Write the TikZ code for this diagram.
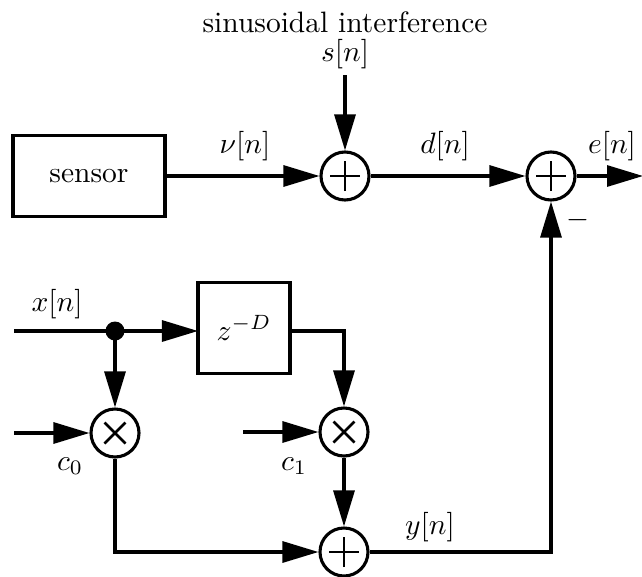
\documentclass[tikz,border=0pt]{standalone}
\usetikzlibrary{arrows.meta,calc}
\begin{document}
\begin{tikzpicture}[x=1pt,y=-1pt,line width=3.1pt,
  every node/.style={font=\fontsize{10}{12}\selectfont},
  arr/.style={-{Triangle[length=36pt,width=21pt]}},
  sumn/.style={circle,draw,minimum size=48pt,inner sep=0pt,
    path picture={\draw[line width=2.8pt] ([xshift=-15pt]path picture bounding box.center) -- ([xshift=15pt]path picture bounding box.center)
      ([yshift=-15pt]path picture bounding box.center) -- ([yshift=15pt]path picture bounding box.center);}},
  muln/.style={circle,draw,minimum size=48pt,inner sep=0pt,
    path picture={\draw[line width=2.6pt] ([shift={(-10.5pt,-10.5pt)}]path picture bounding box.center) -- ([shift={(10.5pt,10.5pt)}]path picture bounding box.center)
      ([shift={(-10.5pt,10.5pt)}]path picture bounding box.center) -- ([shift={(10.5pt,-10.5pt)}]path picture bounding box.center);}},
  blk/.style={draw,inner sep=0pt,outer sep=0pt,scale=2.95},
  lbl/.style={inner sep=0pt,scale=2.95}]
\useasboundingbox (0,0) rectangle (642,576);
% nodes
\node[sumn] (s1) at (345,176) {};
\node[sumn] (s2) at (551,176) {};
\node[sumn] (s3) at (344,552) {};
\node[muln] (m1) at (115,433) {};
\node[muln] (m2) at (344,432) {};
\node[blk,minimum width=51.5pt,minimum height=27.5pt] (sensor) at (89,176) {sensor};
\node[blk,minimum width=31.2pt,minimum height=30.8pt] (delay) at (244,328) {$z^{-D}$};
\node[lbl] (sint) at (345,22) {sinusoidal interference};
\node[lbl] (sn) at (345,54) {$s[n]$};
\node[lbl] (nu) at (245,146) {$\nu[n]$};
\node[lbl] (dn) at (445,146) {$d[n]$};
\node[lbl] (en) at (612,146) {$e[n]$};
\node[lbl] (minus) at (578,220) {$-$};
\node[lbl] (xn) at (57,304) {$x[n]$};
\node[lbl] (c0) at (70,466) {$c_0$};
\node[lbl] (c1) at (294,466) {$c_1$};
\node[lbl] (yn) at (430,527) {$y[n]$};
\coordinate (stop) at (345,75);
\coordinate (eout) at (643,176);
\coordinate (xin) at (14,331);
\coordinate (dot) at (115,331);
\coordinate (c0in) at (14,433);
\coordinate (c1in) at (243,432);
% connectors
\draw[arr] (stop) -- (s1);
\draw[arr] (sensor) -- (s1);
\draw[arr] (s1) -- (s2);
\draw[arr] (s2) -- (eout);
\draw (xin) -- (dot);
\draw[arr] (dot) -- (dot -| delay.west);
\draw[arr] (dot) -- (m1);
\fill (dot) circle (9.5pt);
\draw[arr] (dot -| delay.east) -| (m2.north);
\draw[arr] (c0in) -- (m1);
\draw[arr] (c1in) -- (m2);
\draw[arr] (m2) -- (s3);
\draw[arr] (m1) |- (s3);
\draw[arr] (s3) -| (s2);
\end{tikzpicture}
\end{document}
